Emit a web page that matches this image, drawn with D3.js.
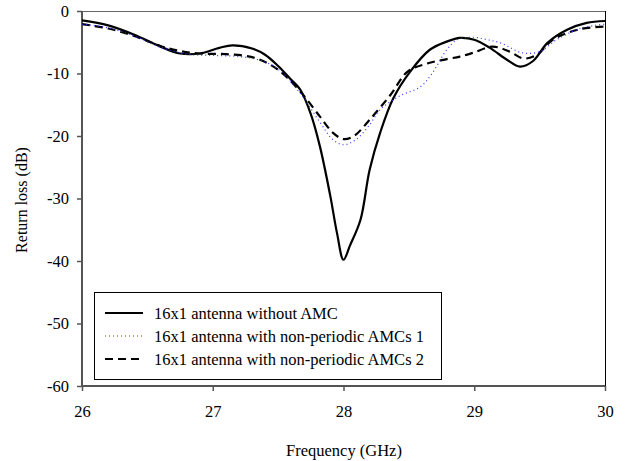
<!DOCTYPE html>
<html><head><meta charset="utf-8">
<script src="https://cdn.jsdelivr.net/npm/d3@7"></script>
<style>body{margin:0;background:#fff}svg{display:block}svg text{font-family:"Liberation Serif","Times New Roman",serif !important}</style>
</head><body><svg id="c" width="625" height="461"></svg>
<script>
const freqSolid = [26.0,26.2,26.4,26.6,26.75,26.9,27.05,27.15,27.3,27.4,27.5,27.6,27.67,27.75,27.82,27.9,27.95,28.0,28.05,28.13,28.2,28.28,28.38,28.51,28.66,28.79,28.89,29.0,29.12,29.25,29.35,29.45,29.56,29.71,29.86,30.0];
const rlSolid = [-1.5,-2.3,-3.8,-5.7,-6.8,-6.8,-5.9,-5.5,-6.0,-7.0,-8.8,-11.0,-12.6,-16.5,-21.7,-29.7,-35.5,-39.8,-37.5,-33.4,-25.4,-19.5,-14.0,-9.7,-6.2,-4.9,-4.3,-4.6,-5.9,-7.8,-8.9,-8.0,-5.1,-3.0,-1.9,-1.6];
const freqDot = [26.0,26.2,26.4,26.6,26.8,27.0,27.2,27.35,27.5,27.67,27.82,27.92,28.0,28.1,28.2,28.28,28.43,28.59,28.68,28.79,28.87,28.99,29.1,29.2,29.37,29.5,29.63,29.81,30.0];
const rlDot = [-2.1,-2.7,-4.0,-5.8,-6.9,-7.1,-7.3,-7.8,-9.3,-13.2,-17.8,-20.6,-21.4,-20.5,-18.2,-15.8,-13.6,-12.1,-9.9,-6.2,-4.6,-4.2,-4.6,-5.1,-6.7,-6.5,-4.6,-2.8,-2.1];
const freqDash = [26.0,26.2,26.4,26.6,26.75,26.9,27.1,27.32,27.5,27.67,27.82,27.92,28.0,28.08,28.2,28.36,28.49,28.64,28.79,28.89,28.99,29.14,29.27,29.38,29.48,29.6,29.81,30.0];
const rlDash = [-2.1,-2.8,-4.0,-5.6,-6.4,-6.8,-6.9,-7.5,-9.4,-12.9,-16.9,-19.5,-20.5,-20.0,-17.4,-13.4,-9.7,-8.4,-7.7,-7.3,-6.7,-5.7,-6.5,-7.6,-7.0,-4.6,-2.9,-2.5];
const xTicks = [26,27,28,29,30];
const yTicks = [0,-10,-20,-30,-40,-50,-60];
const seriesNames = ["16x1 antenna without AMC","16x1 antenna with non-periodic AMCs 1","16x1 antenna with non-periodic AMCs 2"];

const FONT = '"Liberation Serif", "Times New Roman", serif';
const svg = d3.select("#c");
const L=82,R=605,T=11,B=386;
const x = d3.scaleLinear().domain([26,30]).range([L,R]);
const y = d3.scaleLinear().domain([-60,0]).range([B,T]);

svg.append("line").attr("x1",L).attr("x2",R).attr("y1",T+0.5).attr("y2",T+0.5).attr("stroke","#666").attr("stroke-width",1);
svg.append("line").attr("x1",R+0.5).attr("x2",R+0.5).attr("y1",T).attr("y2",B).attr("stroke","#000").attr("stroke-width",1);

const yAxis = svg.append("g").attr("transform",`translate(${L},0)`)
  .call(d3.axisLeft(y).tickValues(yTicks).tickSize(5).tickPadding(8).tickFormat(d=>d===0?"0":"-"+Math.abs(d)));
const xAxis = svg.append("g").attr("transform",`translate(0,${B})`)
  .call(d3.axisBottom(x).tickValues(xTicks).tickSize(5).tickPadding(14).tickFormat(d3.format("d")));
[yAxis,xAxis].forEach(a=>{
  a.attr("font-family",FONT).attr("font-size",16.5);
  a.select(".domain").attr("stroke","#555").attr("stroke-width",2);
  a.selectAll(".tick line").attr("stroke","#555").attr("stroke-width",1.5);
  a.selectAll("text").style("font-family",FONT).attr("font-size",16.5).attr("fill","#000");
});
xAxis.select(".domain").attr("d",`M${L},0H${R}`);
yAxis.select(".domain").attr("d",`M0,${T}V${B}`);

svg.append("text").attr("transform",`translate(21,200) rotate(-90)`).attr("text-anchor","middle")
  .attr("dy","0.35em").style("font-family",FONT).attr("font-size",16).text("Return loss (dB)");
svg.append("text").attr("x",344).attr("y",456).attr("text-anchor","middle").style("font-family",FONT).attr("font-size",16.5).text("Frequency (GHz)");

const line = d3.line().x(d=>x(d[0])).y(d=>y(d[1])).curve(d3.curveCatmullRom.alpha(0.5));
const styles = [
  {stroke:"#000",w:2.2,dash:null},
  {stroke:"#3333ff",w:1.2,dash:"1,3"},
  {stroke:"#000",w:2.2,dash:"8,5"}
];
const data = [
  d3.zip(freqSolid,rlSolid),
  d3.zip(freqDot,rlDot),
  d3.zip(freqDash,rlDash)
];
svg.append("clipPath").attr("id","pc").append("rect").attr("x",L).attr("y",T).attr("width",R-L).attr("height",B-T);
[0,2,1].forEach(i=>{
  svg.append("path").attr("d",line(data[i])).attr("fill","none").attr("stroke",styles[i].stroke)
    .attr("stroke-width",styles[i].w).attr("stroke-dasharray",styles[i].dash).attr("clip-path","url(#pc)");
});

const lg = svg.append("g");
lg.append("rect").attr("x",94.5).attr("y",292.5).attr("width",347).attr("height",87).attr("fill","#fff").attr("stroke","#000").attr("stroke-width",1);
const rows=[313,336,359];
seriesNames.forEach((n,i)=>{
  lg.append("line").attr("x1",105).attr("x2",143).attr("y1",rows[i]).attr("y2",rows[i])
    .attr("stroke",styles[i].stroke).attr("stroke-width",styles[i].w).attr("stroke-dasharray",styles[i].dash);
  lg.append("text").attr("x",154).attr("y",rows[i]).attr("dy","0.35em").style("font-family",FONT).attr("font-size",16.5).text(n);
});
</script></body></html>
